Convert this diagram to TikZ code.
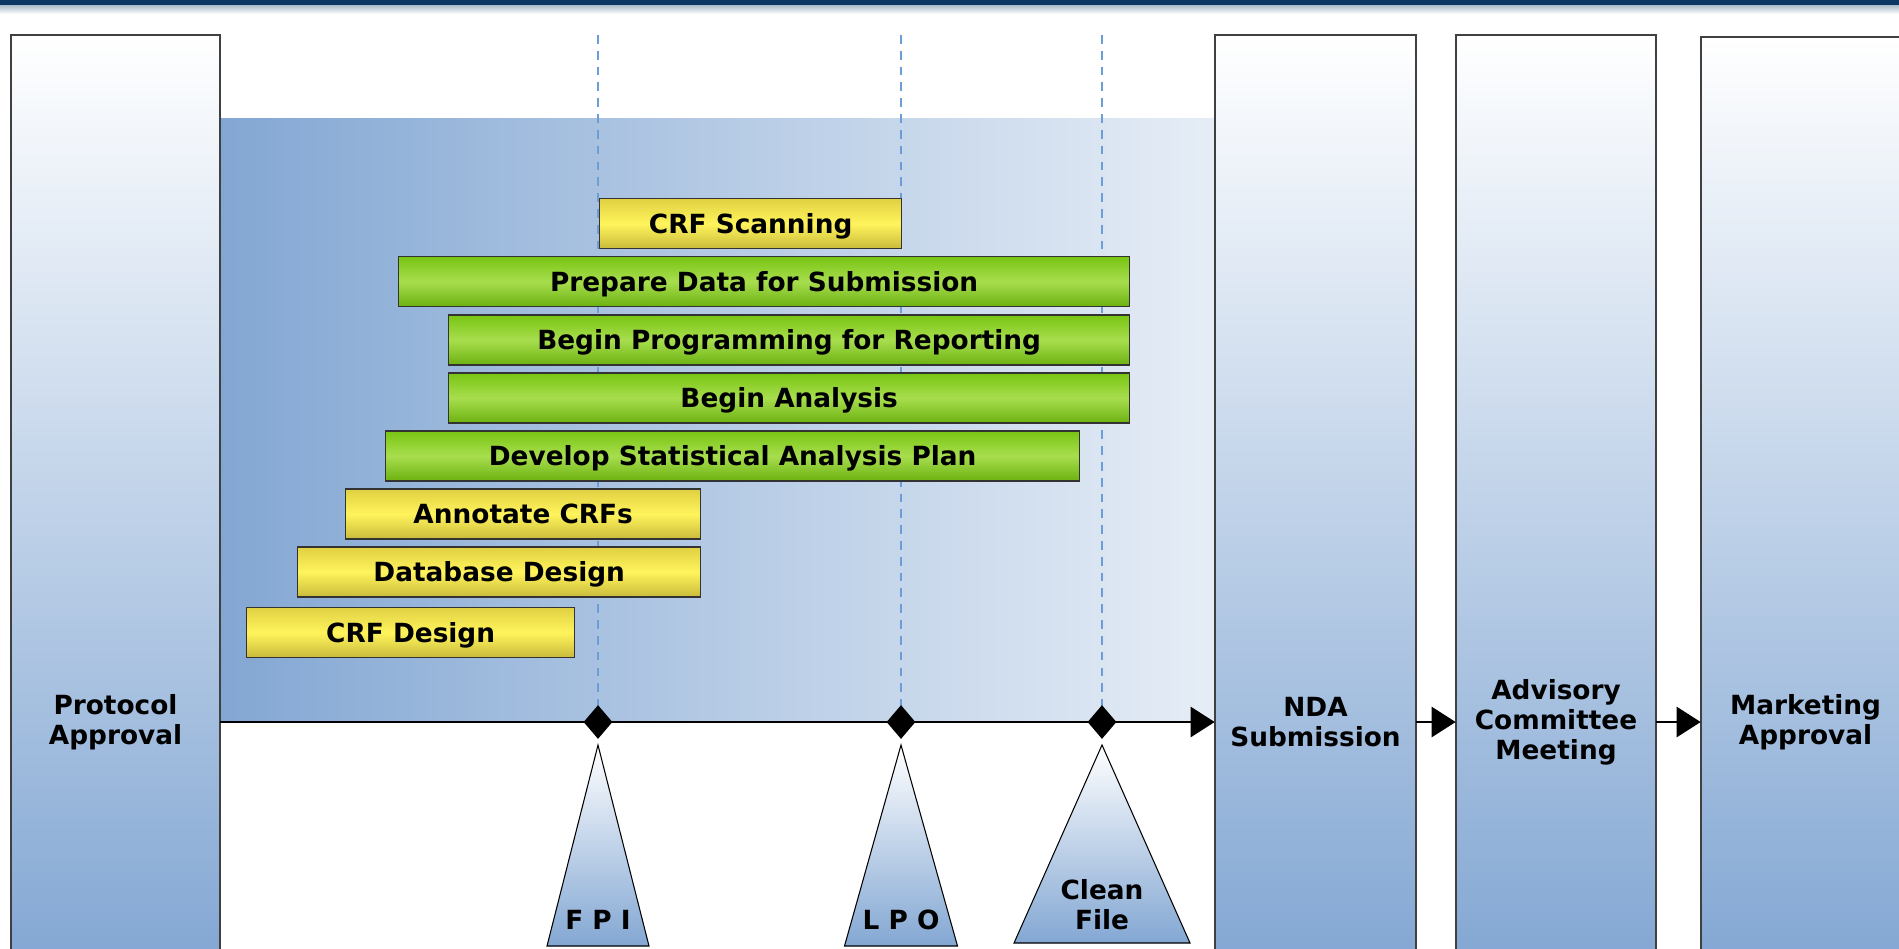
\documentclass[tikz,border=0pt]{standalone}
\usepackage{fontspec}
\setmainfont{DejaVu Sans}
\usetikzlibrary{shapes.geometric,arrows.meta}

\definecolor{steel}{HTML}{83A7D3}
\definecolor{paleblue}{HTML}{E6EDF6}
\definecolor{navy}{HTML}{0D3563}
\definecolor{guide}{HTML}{6C9DD6}
\definecolor{ytop}{HTML}{E0D042}
\definecolor{ymid}{HTML}{FFF45C}
\definecolor{gtop}{HTML}{78C512}
\definecolor{gmid}{HTML}{A8DE4E}

\tikzset{
  txt/.style={font=\fontsize{15pt}{17pt}\selectfont\bfseries, align=center},
  stage/.style={txt, minimum width=#1, inner sep=0pt},
  column/.style={top color=white, bottom color=steel, draw=black!75, line width=1.1pt},
  task/.style={txt, draw=black!80, line width=0.8pt, minimum height=1cm,
    text height=11pt, text depth=0pt, inner sep=0pt, anchor=west},
  yellowtask/.style={task, top color=ytop, bottom color=ytop!90!black, middle color=ymid},
  greentask/.style={task, top color=gtop, bottom color=gtop!90!black, middle color=gmid},
  flow/.style={line width=1.5pt, -{Triangle[length=0.48cm, width=0.6cm]}},
  milestone/.style={diamond, fill=black, minimum width=0.58cm, minimum height=0.68cm, inner sep=0pt},
  guideline/.style={guide, line width=0.8pt, dash pattern=on 5pt off 4pt},
}

\begin{document}
\begin{tikzpicture}[x=0.02cm, y=-0.02cm]
\useasboundingbox (0,0) rectangle (1899,948);
\clip (0,0) rectangle (1899,948);

% Header strip
\fill[navy] (0,0) rectangle (1899,5);
\shade[top color=navy!35, bottom color=white] (0,5) rectangle (1899,14);

% Study period
\shade[left color=steel, right color=paleblue] (220,118) rectangle (1215,722);

% Stage columns
\shade[column] (11,35) rectangle (220,960);
\shade[column] (1215,35) rectangle (1416,960);
\shade[column] (1456,35) rectangle (1656,960);
\shade[column] (1701,37) rectangle (1910,960);

\node[stage=4.18cm] (protocol) at (115.5,722) {Protocol\\Approval};
\node[stage=4.02cm] (nda) at (1315.5,722) {NDA\\Submission};
\node[stage=4.0cm] (advisory) at (1556,722) {Advisory\\Committee\\Meeting};
\node[stage=4.18cm] (marketing) at (1805.5,722) {Marketing\\Approval};

% Guide lines
\foreach \x/\name in {598/fpi, 901/lpo, 1102/clean} {
    \coordinate (\name-top) at (\x,35);
    \coordinate (\name-base) at (\x,722);
    \draw[guideline] (\name-top) -- (\name-base);
}

% Tasks
\node[yellowtask, minimum width=6.04cm] (scan) at (599,223.5) {CRF Scanning};
\node[greentask, minimum width=14.62cm] (prepare) at (398,281.5) {Prepare Data for Submission};
\node[greentask, minimum width=13.62cm] (programming) at (448,340) {Begin Programming for Reporting};
\node[greentask, minimum width=13.62cm] (analysis) at (448,398) {Begin Analysis};
\node[greentask, minimum width=13.88cm] (sap) at (385,456) {Develop Statistical Analysis Plan};
\node[yellowtask, minimum width=7.1cm] (annotate) at (345,514) {Annotate CRFs};
\node[yellowtask, minimum width=8.06cm] (database) at (297,572) {Database Design};
\node[yellowtask, minimum width=6.56cm] (crfdesign) at (246,632.5) {CRF Design};

% Timeline
\draw[flow] (protocol) -- (nda);
\draw[flow] (nda) -- (advisory);
\draw[flow] (advisory) -- (marketing);

\node[milestone] (fpi-mark) at (fpi-base) {};
\node[milestone] (lpo-mark) at (lpo-base) {};
\node[milestone] (clean-mark) at (clean-base) {};

% Milestone markers
\foreach \x/\hw/\yb/\name/\ty/\lbl in {598/51/946/fpi/920/{F P I},
    901/56.5/946/lpo/920/{L P O}, 1102/88/943/clean/905/{Clean\\File}} {
    \shade[top color=white, bottom color=steel, draw=black, line width=0.6pt]
        (\x,745) -- (\x+\hw,\yb) -- (\x-\hw,\yb) -- cycle;
    \node[txt] (\name) at (\x,\ty) {\lbl};
}
\end{tikzpicture}
\end{document}
